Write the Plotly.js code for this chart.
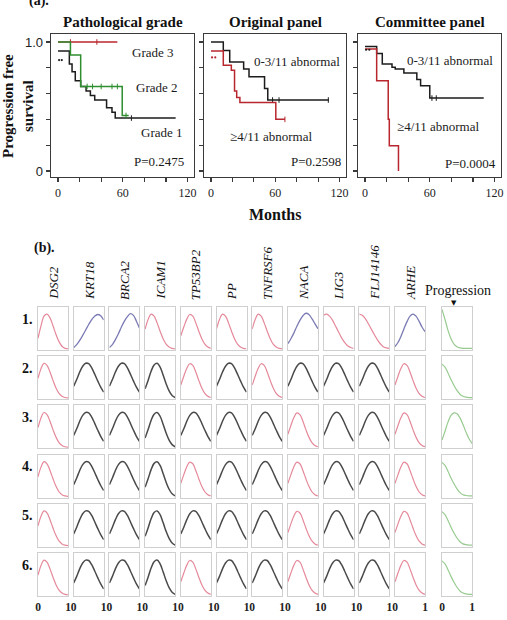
<!DOCTYPE html>
<html>
<head>
<meta charset="utf-8">
<script src="https://cdn.plot.ly/plotly-3.0.1.min.js"></script>
<style>
  html, body { margin: 0; padding: 0; background: #ffffff; }
  #chart { width: 507px; height: 620px; }
</style>
</head>
<body>
<div id="chart"></div>
<script>
// ---------- (a) Progression-free survival curves ----------
const panelTitles = ['Pathological grade', 'Original panel', 'Committee panel'];

// Pathological grade
const grade3Months = [0, 55];
const grade3Surv = [1.0, 1.0];
const grade3Censor = [11.5, 36];
const grade2Months = [0, 11.5, 21, 59.5, 65.5];
const grade2Surv = [1.0, 0.90, 0.655, 0.43, 0.43];
const grade2Censor = [27, 32, 40, 50, 55, 63];
const grade1Months = [0, 10.5, 13, 16, 21, 26, 30, 34, 45, 50, 53, 109];
const grade1Surv = [0.93, 0.83, 0.77, 0.70, 0.655, 0.62, 0.585, 0.55, 0.49, 0.455, 0.41, 0.41];
const grade1Censor = [68];
const gradeEarlyMonths = [1, 3.5];
const gradeEarlySurv = [0.86, 0.86];

// Original panel
const origLowMonths = [0, 11.5, 17.5, 30.5, 35.5, 50, 53, 110];
const origLowSurv = [1.0, 0.935, 0.845, 0.79, 0.73, 0.64, 0.55, 0.55];
const origLowCensor = [57.5, 63.5, 109.5];
const origHighMonths = [0, 11.5, 19, 22, 24, 27, 60.5, 69];
const origHighSurv = [0.93, 0.82, 0.78, 0.62, 0.57, 0.53, 0.40, 0.40];
const origHighCensor = [69];
const origEarlyMonths = [1, 4];
const origEarlySurv = [0.88, 0.88];

// Committee panel
const commLowMonths = [0, 10.8, 16, 25, 28, 36, 48, 51.5, 60, 110];
const commLowSurv = [0.965, 0.91, 0.83, 0.805, 0.79, 0.76, 0.71, 0.66, 0.565, 0.565];
const commLowCensor = [62, 66];
const commHighMonths = [0, 10.8, 21.5, 22.5, 31, 31];
const commHighSurv = [0.945, 0.70, 0.40, 0.195, 0.195, 0.0];
const commEarlyMonths = [1, 4];
const commEarlySurv = [0.94, 0.94];

const pValues = ['P=0.2475', 'P=0.2598', 'P=0.0004'];

// ---------- (b) Gene expression profiles ----------
const genes = ['DSG2', 'KRT18', 'BRCA2', 'ICAM1', 'TP53BP2', 'PP', 'TNFRSF6', 'NACA', 'LIG3', 'FLJ14146', 'ARHE'];
const rowLabels = ['1.', '2.', '3.', '4.', '5.', '6.'];
const profileX = [0, 0.1, 0.2, 0.3, 0.4, 0.5, 0.6, 0.7, 0.8, 0.9, 1.0];

const redA = [0.25, 0.55, 0.78, 0.83, 0.74, 0.55, 0.34, 0.17, 0.06, 0.01, 0.0];
const redB = [0.47, 0.70, 0.83, 0.78, 0.62, 0.42, 0.24, 0.11, 0.04, 0.01, 0.0];
const redC = [0.31, 0.52, 0.71, 0.82, 0.78, 0.62, 0.42, 0.24, 0.11, 0.04, 0.01];
const redD = [0.80, 0.83, 0.78, 0.68, 0.54, 0.40, 0.26, 0.15, 0.07, 0.03, 0.01];
const redE = [0.83, 0.80, 0.72, 0.60, 0.47, 0.34, 0.22, 0.12, 0.05, 0.02, 0.01];
const blueA = [0.03, 0.10, 0.20, 0.32, 0.45, 0.58, 0.70, 0.78, 0.82, 0.79, 0.69];
const blueB = [0.03, 0.10, 0.22, 0.36, 0.52, 0.66, 0.77, 0.84, 0.80, 0.66, 0.50];
const blueC = [0.12, 0.24, 0.38, 0.54, 0.68, 0.79, 0.85, 0.82, 0.72, 0.60, 0.48];
const blueD = [0.05, 0.15, 0.30, 0.48, 0.65, 0.78, 0.83, 0.78, 0.66, 0.52, 0.41];
const blackMid = [0.28, 0.44, 0.62, 0.76, 0.83, 0.82, 0.72, 0.57, 0.41, 0.26, 0.14];
const blackNarrow = [0.22, 0.42, 0.64, 0.79, 0.83, 0.74, 0.55, 0.34, 0.17, 0.06, 0.01];
const greenA = [0.94, 0.70, 0.44, 0.24, 0.11, 0.05, 0.02, 0.01, 0.01, 0.01, 0.01];
const greenB = [0.81, 0.74, 0.60, 0.44, 0.30, 0.18, 0.09, 0.04, 0.02, 0.01, 0.01];
const greenMid = [0.17, 0.38, 0.60, 0.76, 0.82, 0.80, 0.70, 0.54, 0.36, 0.20, 0.09];

// profile drawn in each cell: 11 genes followed by the progression column
const profileRows = [
  ['redA', 'blueA', 'blueB', 'redB', 'redC', 'redB', 'redB', 'blueC', 'redD', 'redE', 'blueD', 'greenA'],
  ['redB', 'blackMid', 'blackMid', 'blackNarrow', 'redC', 'blackMid', 'redC', 'blackMid', 'blackMid', 'blackMid', 'redC', 'greenB'],
  ['redB', 'blackMid', 'blackMid', 'blackNarrow', 'blackMid', 'blackMid', 'blackMid', 'redC', 'blackMid', 'blackMid', 'redC', 'greenMid'],
  ['redB', 'blackMid', 'blackMid', 'blackNarrow', 'redC', 'blackMid', 'blackMid', 'redC', 'blackMid', 'blackMid', 'redC', 'greenB'],
  ['redB', 'blackMid', 'blackMid', 'blackNarrow', 'blackMid', 'blackMid', 'blackMid', 'redC', 'blackMid', 'blackMid', 'redC', 'greenB'],
  ['redB', 'blackMid', 'blackMid', 'blackNarrow', 'redC', 'blackMid', 'blackMid', 'redC', 'blackMid', 'blackMid', 'redC', 'greenB']
];
const profiles = { redA, redB, redC, redD, redE, blueA, blueB, blueC, blueD, blackMid, blackNarrow, greenA, greenB, greenMid };

// ---------- layout helpers ----------
const W = 507, H = 620;
const px = v => v / W;
const py = v => 1 - v / H;
const SERIF = 'Liberation Serif, Times New Roman, serif';
const SANS = 'Liberation Sans, Arial, sans-serif';

const profileColors = { red: '#e5899a', blue: '#7a7ab4', black: '#4a4a4a', green: '#98cb90' };
const profileWidths = { red: 1.2, blue: 1.3, black: 1.5, green: 1.2 };
const groupOf = key => key.replace(/[A-Z].*$/, '');

// step-function lookup used to place censor ticks on a curve
function survAt(months, surv, t) {
  let s = surv[0];
  for (let i = 0; i < months.length; i++) { if (months[i] <= t) s = surv[i]; }
  return s;
}

const traces = [];
const layout = {
  width: W, height: H,
  margin: { l: 0, r: 0, t: 0, b: 0 },
  paper_bgcolor: '#ffffff', plot_bgcolor: 'rgba(0,0,0,0)',
  showlegend: false,
  annotations: [],
  font: { family: SERIF, color: '#1a1a1a' }
};

// ---------- KM panels ----------
const kmFrames = [[51, 194], [204, 346], [358, 501]];
const kmTop = 34, kmBottom = 177;
const KM_BLACK = '#1c1c1c', KM_RED = '#b8262e', KM_GREEN = '#2f8f2f';

const kmCurves = [
  [
    { m: grade3Months, s: grade3Surv, c: grade3Censor, col: KM_RED },
    { m: grade1Months, s: grade1Surv, c: grade1Censor, col: KM_BLACK },
    { m: grade2Months, s: grade2Surv, c: grade2Censor, col: KM_GREEN }
  ],
  [
    { m: origLowMonths, s: origLowSurv, c: origLowCensor, col: KM_BLACK },
    { m: origHighMonths, s: origHighSurv, c: origHighCensor, col: KM_RED }
  ],
  [
    { m: commLowMonths, s: commLowSurv, c: commLowCensor, col: KM_BLACK },
    { m: commHighMonths, s: commHighSurv, c: [], col: KM_RED }
  ]
];
const kmEarly = [
  { m: gradeEarlyMonths, s: gradeEarlySurv, col: KM_BLACK },
  { m: origEarlyMonths, s: origEarlySurv, col: KM_RED },
  { m: commEarlyMonths, s: commEarlySurv, col: KM_BLACK }
];

kmFrames.forEach((fr, k) => {
  const n = k + 1;
  const xa = n === 1 ? 'x' : 'x' + n;
  const ya = n === 1 ? 'y' : 'y' + n;
  layout['xaxis' + (n === 1 ? '' : n)] = {
    domain: [px(fr[0]), px(fr[1])], anchor: ya,
    range: [-6.5, 126], fixedrange: true,
    showline: true, mirror: true, linecolor: '#3a3a3a', linewidth: 1.3,
    showgrid: false, zeroline: false,
    ticks: 'outside', ticklen: 4, tickwidth: 1.2, tickcolor: '#3a3a3a',
    tickvals: [0, 20, 40, 60, 80, 100, 120], ticktext: ['0', '', '', '60', '', '', '120'],
    tickfont: { family: SERIF, size: 12, color: '#222' }
  };
  layout['yaxis' + (n === 1 ? '' : n)] = {
    domain: [py(kmBottom), py(kmTop)], anchor: xa,
    range: [-0.047, 1.062], fixedrange: true,
    showline: true, mirror: true, linecolor: '#3a3a3a', linewidth: 1.3,
    showgrid: false, zeroline: false,
    ticks: 'outside', ticklen: 4, tickwidth: 1.2, tickcolor: '#3a3a3a',
    tickvals: [0, 0.2, 0.4, 0.6, 0.8, 1.0], ticktext: ['0', '', '', '', '', '1.0'],
    showticklabels: n === 1,
    tickfont: { family: SANS, size: 13, color: '#222' }
  };
  kmCurves[k].forEach(cv => {
    traces.push({
      x: cv.m, y: cv.s, xaxis: xa, yaxis: ya, type: 'scatter', mode: 'lines',
      line: { shape: 'hv', color: cv.col, width: 1.5 }, hoverinfo: 'skip'
    });
    if (cv.c.length) {
      traces.push({
        x: cv.c, y: cv.c.map(t => survAt(cv.m, cv.s, t)), xaxis: xa, yaxis: ya,
        type: 'scatter', mode: 'markers',
        marker: { symbol: 'line-ns-open', size: 4, color: cv.col, line: { color: cv.col, width: 1 } },
        hoverinfo: 'skip'
      });
    }
  });
  const e = kmEarly[k];
  traces.push({
    x: e.m, y: e.s, xaxis: xa, yaxis: ya, type: 'scatter', mode: 'markers',
    marker: { symbol: 'circle', size: 2.2, color: e.col }, hoverinfo: 'skip'
  });
  layout.annotations.push({
    xref: 'paper', yref: 'paper', x: px((fr[0] + fr[1]) / 2), y: py(22),
    text: '<b>' + panelTitles[k] + '</b>', showarrow: false,
    font: { family: SERIF, size: 15, color: '#111' }, xanchor: 'center', yanchor: 'middle'
  });
});

// KM curve labels
const kmLabels = [
  ['Grade 3', 153, 53], ['Grade 2', 157, 87], ['Grade 1', 162, 133], [pValues[0], 159, 162],
  ['0-3/11 abnormal', 297, 62], ['\u22654/11 abnormal', 271, 136], [pValues[1], 316, 162],
  ['0-3/11 abnormal', 450, 60], ['\u22654/11 abnormal', 438, 126], [pValues[2], 470, 163]
];
kmLabels.forEach(([t, x, y]) => layout.annotations.push({
  xref: 'paper', yref: 'paper', x: px(x), y: py(y), text: t, showarrow: false,
  font: { family: SERIF, size: 13, color: '#1a1a1a' }, xanchor: 'center', yanchor: 'middle'
}));

layout.annotations.push(
  { xref: 'paper', yref: 'paper', x: px(27), y: py(11), text: '<b>(a).</b>', showarrow: false,
    font: { family: SERIF, size: 14, color: '#111' }, xanchor: 'left', yanchor: 'bottom' },
  { xref: 'paper', yref: 'paper', x: px(18), y: py(106), text: '<b>Progression free<br>survival</b>',
    showarrow: false, textangle: -90, font: { family: SERIF, size: 15, color: '#111' },
    xanchor: 'center', yanchor: 'middle' },
  { xref: 'paper', yref: 'paper', x: px(275), y: py(214), text: '<b>Months</b>', showarrow: false,
    font: { family: SERIF, size: 16, color: '#111' }, xanchor: 'center', yanchor: 'middle' },
  { xref: 'paper', yref: 'paper', x: px(32), y: py(248), text: '<b>(b).</b>', showarrow: false,
    font: { family: SERIF, size: 14, color: '#111' }, xanchor: 'left', yanchor: 'middle' }
);

// ---------- profile grid ----------
const cellW = 30, cellH = 43;
const colLeft0 = 38, colPitch = 35.7, progLeft = 442;
const rowTop0 = 307, rowPitch = 49.2;
const colLeft = c => (c < genes.length ? colLeft0 + c * colPitch : progLeft);

profileRows.forEach((row, r) => {
  const top = rowTop0 + r * rowPitch;
  row.forEach((key, c) => {
    const n = 4 + r * row.length + c;
    const left = colLeft(c);
    const grp = groupOf(key);
    layout['xaxis' + n] = {
      domain: [px(left), px(left + cellW)], anchor: 'y' + n,
      range: [0, 1], fixedrange: true,
      showline: true, mirror: true, linecolor: '#cfcfcf', linewidth: 1,
      showgrid: false, zeroline: false, ticks: '',
      showticklabels: r === profileRows.length - 1,
      tickvals: [0, 1], ticktext: ['<b>0</b>', '<b>1</b>'],
      tickfont: { family: SERIF, size: 11.5, color: '#222' }
    };
    layout['yaxis' + n] = {
      domain: [py(top + cellH), py(top)], anchor: 'x' + n,
      range: [-0.03, 1.0], fixedrange: true,
      showline: true, mirror: true, linecolor: '#cfcfcf', linewidth: 1,
      showgrid: false, zeroline: false, ticks: '', showticklabels: false
    };
    traces.push({
      x: profileX, y: profiles[key], xaxis: 'x' + n, yaxis: 'y' + n,
      type: 'scatter', mode: 'lines',
      line: { shape: 'spline', smoothing: 1, color: profileColors[grp], width: profileWidths[grp] },
      hoverinfo: 'skip'
    });
  });
  layout.annotations.push({
    xref: 'paper', yref: 'paper', x: px(27), y: py(top + 12), text: '<b>' + rowLabels[r] + '</b>',
    showarrow: false, font: { family: SERIF, size: 14, color: '#111' },
    xanchor: 'center', yanchor: 'middle'
  });
});

genes.forEach((g, c) => layout.annotations.push({
  xref: 'paper', yref: 'paper', x: px(colLeft(c) + cellW / 2), y: py(302),
  text: '<i>' + g + '</i>', showarrow: false, textangle: -90,
  font: { family: SERIF, size: 13, color: '#111' }, xanchor: 'center', yanchor: 'bottom'
}));

layout.annotations.push(
  { xref: 'paper', yref: 'paper', x: px(458), y: py(290), text: 'Progression', showarrow: false,
    font: { family: SERIF, size: 14, color: '#111' }, xanchor: 'center', yanchor: 'middle' },
  { xref: 'paper', yref: 'paper', x: px(454), y: py(303), text: '\u25BC', showarrow: false,
    font: { family: 'DejaVu Sans', size: 7, color: '#111' }, xanchor: 'center', yanchor: 'middle' }
);

Plotly.newPlot('chart', traces, layout, { staticPlot: true, displayModeBar: false });
</script>
</body>
</html>
